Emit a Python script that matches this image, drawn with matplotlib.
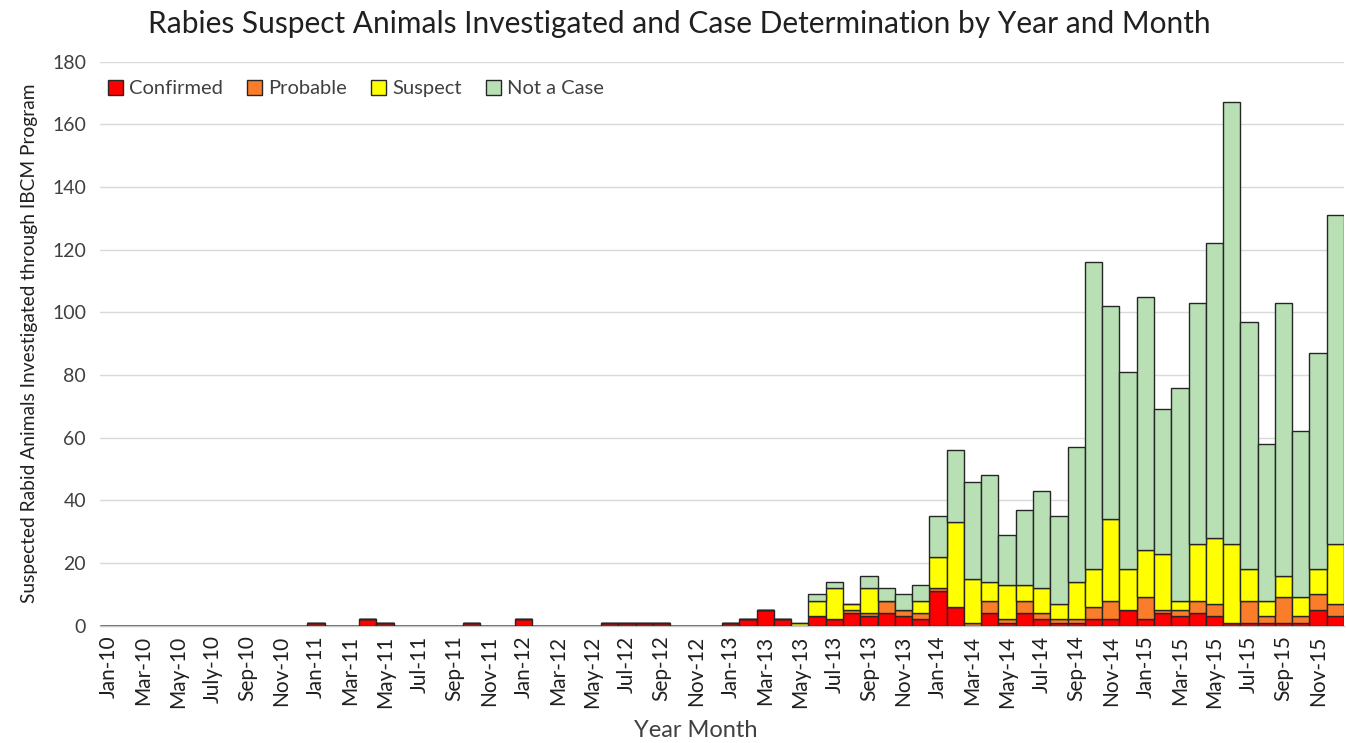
#!/usr/bin/env python3
"""Rabies suspect animals investigated, stacked by case determination, per month."""

import matplotlib as mpl
import matplotlib.pyplot as plt
import numpy as np

MONTHS = [f"{m}-{y}" for y in range(10, 16)
          for m in ["Jan", "Feb", "Mar", "Apr", "May", "Jun",
                    "Jul", "Aug", "Sep", "Oct", "Nov", "Dec"]]
TICK_LABELS = [
    "Jan-10", "Mar-10", "May-10", "July-10", "Sep-10", "Nov-10",
    "Jan-11", "Mar-11", "May-11", "Jul-11", "Sep-11", "Nov-11",
    "Jan-12", "Mar-12", "May-12", "Jul-12", "Sep-12", "Nov-12",
    "Jan-13", "Mar-13", "May-13", "Jul-13", "Sep-13", "Nov-13",
    "Jan-14", "Mar-14", "May-14", "Jul-14", "Sep-14", "Nov-14",
    "Jan-15", "Mar-15", "May-15", "Jul-15", "Sep-15", "Nov-15",
]

# one value per month, Jan-10 .. Dec-15
CONFIRMED = [
    0, 0, 0, 0, 0, 0, 0, 0, 0, 0, 0, 0,
    1, 0, 0, 2, 1, 0, 0, 0, 0, 1, 0, 0,
    2, 0, 0, 0, 0, 1, 1, 1, 1, 0, 0, 0,
    1, 2, 5, 2, 0, 3, 2, 4, 3, 4, 3, 2,
    11, 6, 0, 4, 1, 4, 2, 1, 1, 2, 2, 5,
    2, 4, 3, 4, 3, 1, 1, 1, 1, 1, 5, 3,
]
PROBABLE = [
    0] * 36 + [
    0, 0, 0, 0, 0, 0, 0, 1, 1, 4, 2, 2,
    1, 0, 1, 4, 1, 4, 2, 1, 1, 4, 6, 0,
    7, 1, 2, 4, 4, 0, 7, 2, 8, 2, 5, 4,
]
SUSPECT = [
    0] * 36 + [
    0, 0, 0, 0, 1, 5, 10, 2, 8, 0, 0, 4,
    10, 27, 14, 6, 11, 5, 8, 5, 12, 12, 26, 13,
    15, 18, 3, 18, 21, 25, 10, 5, 7, 6, 8, 19,
]
NOT_A_CASE = [
    0] * 36 + [
    0, 0, 0, 0, 0, 2, 2, 0, 4, 4, 5, 5,
    13, 23, 31, 34, 16, 24, 31, 28, 43, 98, 68, 63,
    81, 46, 68, 77, 94, 141, 79, 50, 87, 53, 69, 105,
]

SERIES = ["Confirmed", "Probable", "Suspect", "Not a Case"]
COLORS = ["#FF0000", "#FA7D2A", "#FFFF00", "#B9E0B4"]

mpl.rcParams["font.family"] = ["Lato", "DejaVu Sans"]

fig = plt.figure(figsize=(13.46, 7.43), dpi=100)
ax = fig.add_axes([100 / 1346, 1 - 625.7 / 743, 1244 / 1346, (625.7 - 61.6) / 743])

x = np.arange(len(MONTHS))
bottom = np.zeros(len(MONTHS))
for name, vals, col in zip(SERIES, [CONFIRMED, PROBABLE, SUSPECT, NOT_A_CASE], COLORS):
    vals = np.array(vals, dtype=float)
    ax.bar(x, vals, width=1.0, bottom=bottom, color=col, edgecolor="#262626",
           linewidth=1.0, label=name, zorder=3)
    bottom += vals

ax.set_xlim(-0.5, len(MONTHS) - 0.5)
ax.set_ylim(0, 180)
ax.set_yticks(np.arange(0, 181, 20))
ax.tick_params(axis="y", labelsize=14, colors="#404040", length=0, pad=10)
ax.set_xticks(x[::2])
ax.set_xticklabels(TICK_LABELS, rotation=90, fontsize=15, color="#202020")
ax.tick_params(axis="x", length=0, pad=7)
ax.grid(axis="y", color="#D9D9D9", linewidth=1.0, zorder=0)
for s in ("top", "right", "left"):
    ax.spines[s].set_visible(False)
ax.spines["bottom"].set_color("#C8C8C8")
ax.spines["bottom"].set_linewidth(1.0)

ax.set_ylabel("Suspected Rabid Animals Investigated through IBCM Program",
              fontsize=13.8, color="#202020", labelpad=10)
ax.set_xlabel("Year Month", fontsize=17, color="#404040")
ax.xaxis.set_label_coords(0.479, -0.168)
fig.text(0.505, 0.968, "Rabies Suspect Animals Investigated and Case Determination by Year and Month",
         ha="center", va="center", fontsize=21.5, color="#202020")

leg = ax.legend(loc="upper left", bbox_to_anchor=(0.0, 0.982), ncol=4, frameon=False,
                fontsize=14.5, handlelength=0.75, handleheight=0.75,
                handletextpad=0.3, columnspacing=1.2, borderaxespad=0.0)
for t in leg.get_texts():
    t.set_color("#404040")

fig.savefig("out.png", dpi=100)
